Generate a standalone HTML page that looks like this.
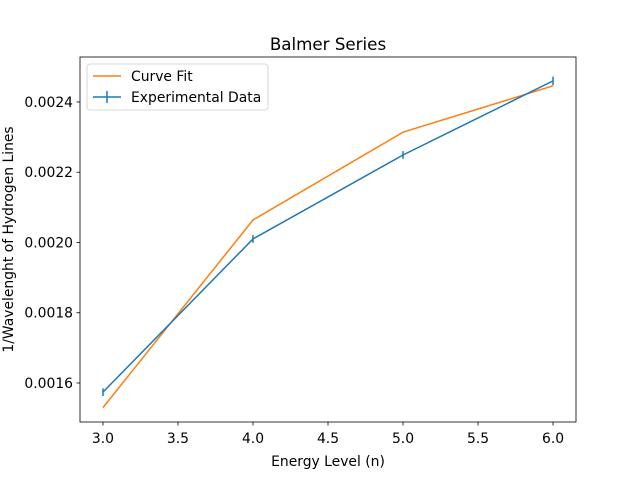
<!DOCTYPE html>
<html><head><meta charset="utf-8"><style>
body{margin:0;background:#fff;}
svg{font-family:"DejaVu Sans","Liberation Sans",sans-serif;}
</style></head><body>
<svg width="640" height="478" viewBox="0 0 640 478">
<rect x="0" y="0" width="640" height="478" fill="#fff"/>
<g id="plot"></g>
</svg>
<script>
const energyLevels=[3,4,5,6];
const experimental=[0.001574,0.002010,0.002249,0.002460];
const expErr=[0.000011,0.000011,0.000011,0.000012];
const curveFit=[0.001530,0.002064,0.002314,0.002446];
const xTicks=[3.0,3.5,4.0,4.5,5.0,5.5,6.0];
const yTicks=[0.0016,0.0018,0.0020,0.0022,0.0024];
const L=80,R=576,T=57,B=422;
const xMin=2.847,xMax=6.153,yMin=0.001489,yMax=0.002528;
const X=v=>L+(v-xMin)/(xMax-xMin)*(R-L);
const Y=v=>B-(v-yMin)/(yMax-yMin)*(B-T);
const NS="http://www.w3.org/2000/svg";
const g=document.getElementById('plot');
function mk(t,a,txt){const e=document.createElementNS(NS,t);for(const k in a)e.setAttribute(k,a[k]);if(txt!==undefined)e.textContent=txt;g.appendChild(e);return e;}
let e=mk('polyline',{points:energyLevels.map((x,i)=>X(x)+','+Y(curveFit[i])).join(' '),fill:'none',stroke:'#ff7f0e','stroke-width':1.5});


e=mk('polyline',{points:energyLevels.map((x,i)=>X(x)+','+Y(experimental[i])).join(' '),fill:'none',stroke:'#1f77b4','stroke-width':1.5});


energyLevels.forEach((x,i)=>{
  const eb=mk('line',{x1:X(x),x2:X(x),y1:Y(experimental[i]-expErr[i]),y2:Y(experimental[i]+expErr[i]),stroke:'#1f77b4','stroke-width':1.5});
  
  
});
e=mk('rect',{x:L,y:T,width:R-L,height:B-T,fill:'none',stroke:'#000','stroke-width':0.8});


xTicks.forEach(v=>{
  mk('line',{x1:X(v),x2:X(v),y1:B,y2:B+3.5,stroke:'#000','stroke-width':0.8});
  const t=mk('text',{x:X(v),y:B+21,'font-size':13.9,'text-anchor':'middle'},v.toFixed(1));
  
  
});
yTicks.forEach(v=>{
  mk('line',{x1:L-3.5,x2:L,y1:Y(v),y2:Y(v),stroke:'#000','stroke-width':0.8});
  const t=mk('text',{x:L-7,y:Y(v)+5,'font-size':13.9,'text-anchor':'end'},v.toFixed(4));
  
  
});
e=mk('text',{x:(L+R)/2,y:466,'font-size':13.9,'text-anchor':'middle'},'Energy Level (n)');


e=mk('text',{x:0,y:0,'font-size':13.9,'text-anchor':'middle',transform:`translate(13,${(T+B)/2}) rotate(-90)`},'1/Wavelenght of Hydrogen Lines');


e=mk('text',{x:(L+R)/2,y:50,'font-size':16.7,'text-anchor':'middle'},'Balmer Series');


e=mk('rect',{x:87,y:64,width:181,height:46,rx:3,fill:'#fff','fill-opacity':0.8,stroke:'#ccc','stroke-width':0.8});


mk('line',{x1:93,x2:121,y1:76,y2:76,stroke:'#ff7f0e','stroke-width':1.5});
e=mk('text',{x:131,y:81,'font-size':13.9},'Curve Fit');


mk('line',{x1:93,x2:121,y1:97,y2:97,stroke:'#1f77b4','stroke-width':1.5});
mk('line',{x1:107,x2:107,y1:91,y2:103,stroke:'#1f77b4','stroke-width':1.5});
e=mk('text',{x:131,y:102,'font-size':13.9},'Experimental Data');


</script>
</body></html>
